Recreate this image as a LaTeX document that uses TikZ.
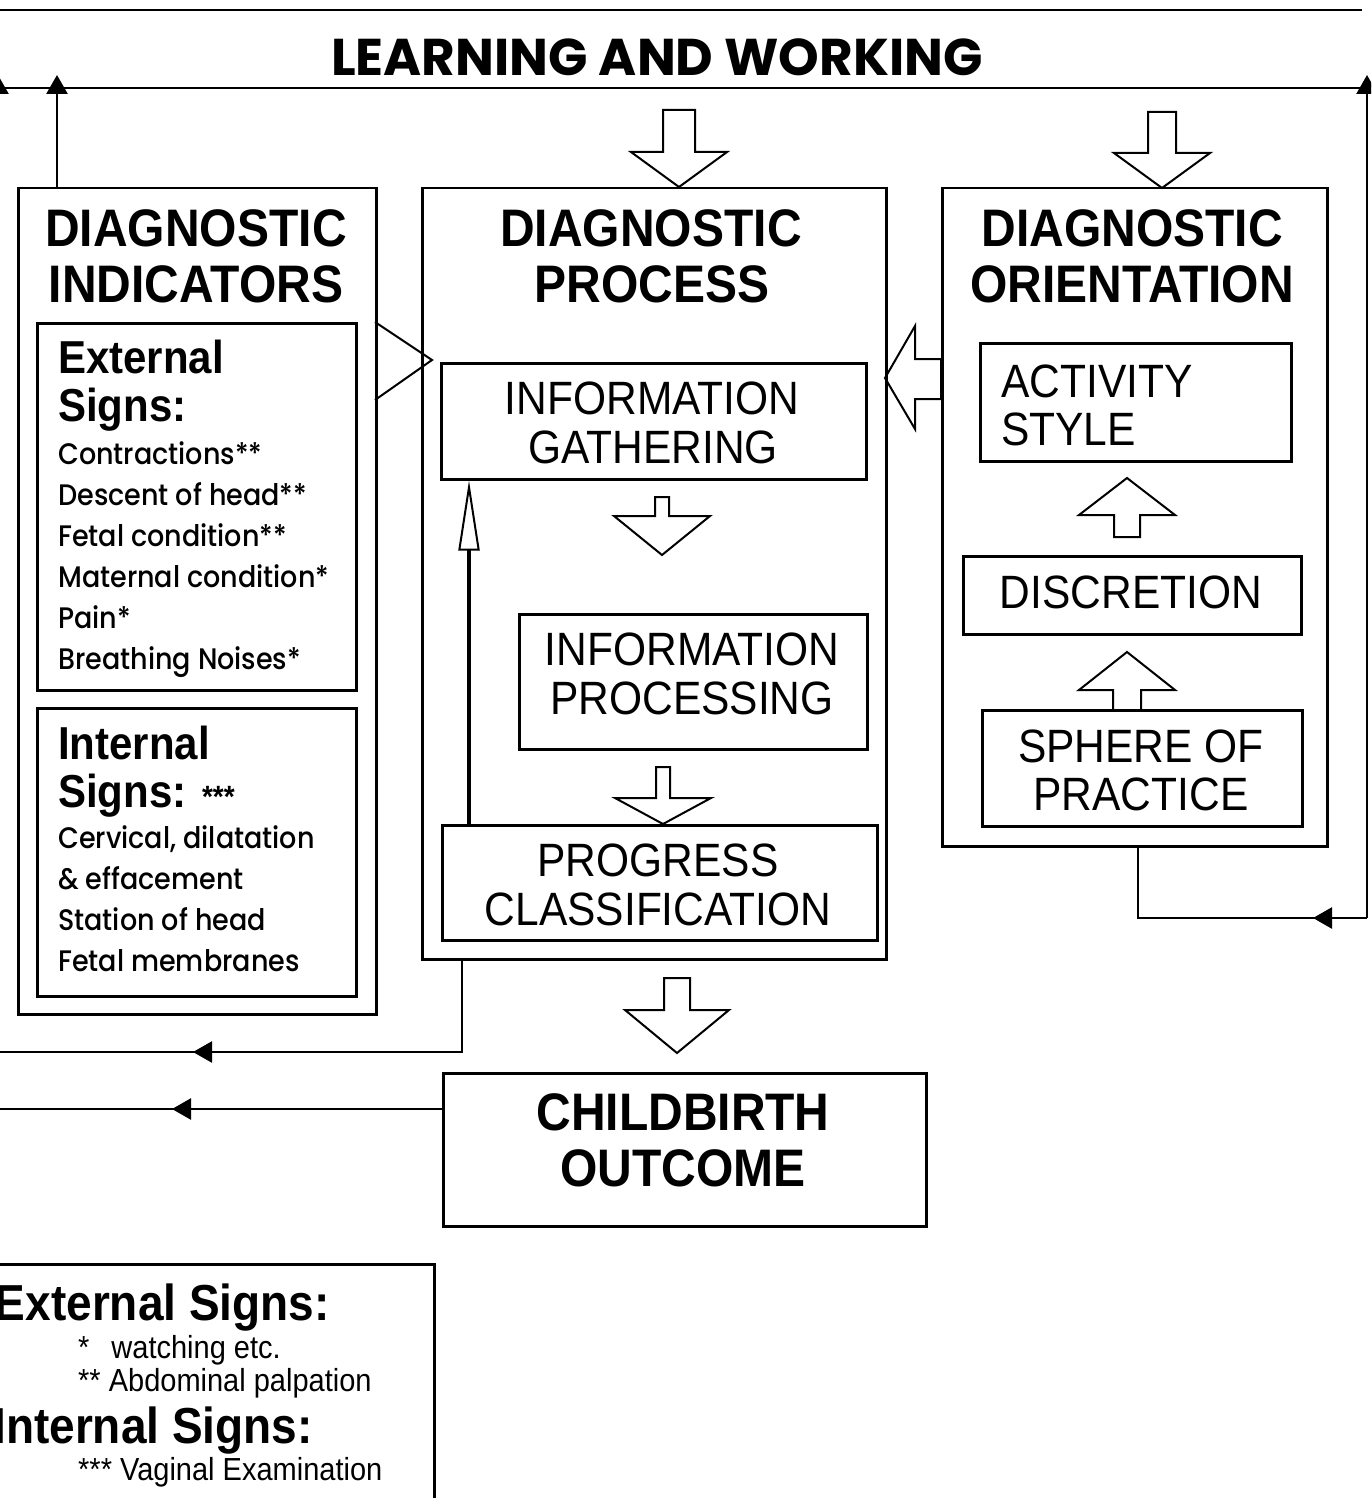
\documentclass[tikz,border=0pt]{standalone}
\usepackage{fontspec}
\usepackage{graphicx}
\setmainfont{Liberation Sans}
\newfontfamily\comic{Poppins}[UprightFont=* Medium, BoldFont=* Bold]
\usetikzlibrary{arrows.meta,calc}
% vertical stretch used for all lettering
\newcommand{\vs}[1]{\scalebox{1}[1.1]{#1}}
\newcommand{\fsz}[1]{\fontsize{#1}{#1}\selectfont}
% hollow block arrow pointing up or down: centre x, tail y, shaft half width, head base y, head half width, tip y
\newcommand{\blockv}[6]{%
  \draw[hollow] (#1-#3,#2) -- (#1+#3,#2) -- (#1+#3,#4) -- (#1+#5,#4) -- (#1,#6)
    -- (#1-#5,#4) -- (#1-#3,#4) -- cycle;}

\begin{document}
\begin{tikzpicture}[x=1pt,y=-1pt,
  box/.style={draw, line width=2.5pt, inner sep=0pt, anchor=north west},
  lab/.style={inner sep=0pt, anchor=base},
  labw/.style={inner sep=0pt, anchor=base west},
  labe/.style={inner sep=0pt, anchor=base east},
  conn/.style={line width=2.5pt},
  tipc/.style={-{Triangle[length=19pt,width=21pt]}},
  hollow/.style={draw, line width=2pt, fill=white, line join=miter}]

\path[use as bounding box] (0,0) rectangle (1371,1498);
\clip (0,0) rectangle (1371,1498);

% rule under the page head
\draw[line width=2.5pt] (0,10) -- (1362,10);

% title
\node[lab] (title) at (657,76) {\scalebox{1.1}[1.1]{\comic\bfseries\fsz{47}LEARNING AND WORKING}};

% hollow block arrows
\blockv{679}{110}{16}{152}{48}{187}
\blockv{1162}{112}{14}{153}{48}{188}
\blockv{662}{497}{7}{516}{48}{555}
\blockv{663}{767}{7}{798}{48}{824}
\blockv{677}{978}{13}{1010}{52}{1053}
\blockv{1127}{537}{13}{515}{48}{478}
\blockv{1127}{710}{14}{690}{48}{652}
\draw[hollow] (941,359) -- (915,359) -- (915,326) -- (885,378) -- (915,429)
  -- (915,399) -- (941,399) -- cycle;
\draw[line width=2pt, line join=miter] (375,322) -- (432,360) -- (375,400);

% boxes
\node[box, minimum width=358pt, minimum height=826pt] (ind) at (17,187) {};
\node[box, minimum width=319pt, minimum height=367pt] (ext) at (36,322) {};
\node[box, minimum width=319pt, minimum height=288pt] (int) at (36,707) {};
\node[box, minimum width=464pt, minimum height=771pt] (proc) at (421,187) {};
\node[box, minimum width=425pt, minimum height=116pt] (gath) at (440,362) {};
\node[box, minimum width=348pt, minimum height=135pt] (info) at (518,613) {};
\node[box, minimum width=435pt, minimum height=115pt] (prog) at (441,824) {};
\node[box, minimum width=385pt, minimum height=658pt] (orient) at (941,187) {};
\node[box, minimum width=311pt, minimum height=118pt] (act) at (979,342) {};
\node[box, minimum width=338pt, minimum height=78pt] (disc) at (962,555) {};
\node[box, minimum width=320pt, minimum height=116pt] (sph) at (981,709) {};
\node[box, minimum width=483pt, minimum height=153pt] (out) at (442,1072) {};
\node[box, minimum width=443pt, minimum height=260pt] (leg) at (-10,1263) {};

% column headings
\node[lab] (h1a) at (196,246) {\vs{\bfseries\fsz{48}DIAGNOSTIC}};
\node[lab] (h1b) at (196,302) {\vs{\bfseries\fsz{48}INDICATORS}};
\node[lab] (h2a) at (651,246) {\vs{\bfseries\fsz{48}DIAGNOSTIC}};
\node[lab] (h2b) at (652,302) {\vs{\bfseries\fsz{48}PROCESS}};
\node[lab] (h3a) at (1132,246) {\vs{\bfseries\fsz{48}DIAGNOSTIC}};
\node[lab] (h3b) at (1132,302) {\vs{\bfseries\fsz{48}ORIENTATION}};

% external signs
\node[labw] (e1) at (58,373) {\vs{\bfseries\fsz{42}External}};
\node[labw] (e2) at (58,421) {\vs{\bfseries\fsz{42}Signs:}};
\node[labw] (e3) at (58,464) {\vs{\comic\fsz{27}Contractions**}};
\node[labw] (e4) at (58,505) {\vs{\comic\fsz{27}Descent of head**}};
\node[labw] (e5) at (58,546) {\vs{\comic\fsz{27}Fetal condition**}};
\node[labw] (e6) at (58,587) {\vs{\comic\fsz{27}Maternal condition*}};
\node[labw] (e7) at (58,628) {\vs{\comic\fsz{27}Pain*}};
\node[labw] (e8) at (58,669) {\vs{\comic\fsz{27}Breathing Noises*}};

% internal signs
\node[labw] (i1) at (58,759) {\vs{\bfseries\fsz{42}Internal}};
\node[labw] (i2) at (58,807) {\vs{\bfseries\fsz{42}Signs: {\fsz{28}***}}};
\node[labw] (i3) at (58,848) {\vs{\comic\fsz{27}Cervical, dilatation}};
\node[labw] (i4) at (58,889) {\vs{\comic\fsz{27}\& effacement}};
\node[labw] (i5) at (58,930) {\vs{\comic\fsz{27}Station of head}};
\node[labw] (i6) at (58,971) {\vs{\comic\fsz{27}Fetal membranes}};

% process steps
\node[lab] (g1) at (652,414) {\vs{\fsz{42.5}INFORMATION}};
\node[lab] (g2) at (653,463) {\vs{\fsz{42.5}GATHERING}};
\node[lab] (p1) at (692,665) {\vs{\fsz{42.5}INFORMATION}};
\node[lab] (p2) at (692,714) {\vs{\fsz{42.5}PROCESSING}};
\node[lab] (c1) at (658,876) {\vs{\fsz{42.5}PROGRESS}};
\node[lab] (c2) at (658,925) {\vs{\fsz{42.5}CLASSIFICATION}};

% orientation steps
\node[labw] (a1) at (1001,397) {\vs{\fsz{42.5}ACTIVITY}};
\node[labw] (a2) at (1001,445) {\vs{\fsz{42.5}STYLE}};
\node[lab] (d1) at (1131,608) {\vs{\fsz{42.5}DISCRETION}};
\node[lab] (s1) at (1141,762) {\vs{\fsz{42.5}SPHERE OF}};
\node[lab] (s2) at (1141,810) {\vs{\fsz{42.5}PRACTICE}};

% outcome
\node[lab] (o1) at (683,1130) {\vs{\bfseries\fsz{48}CHILDBIRTH}};
\node[lab] (o2) at (683,1186) {\vs{\bfseries\fsz{48}OUTCOME}};

% key
\node[labe] (k1) at (330,1320) {\vs{\bfseries\fsz{46}External Signs:}};
\node[labw] (k2) at (78,1358) {\vs{\fsz{29}*\hspace{22pt}watching etc.}};
\node[labw] (k3) at (78,1391) {\vs{\fsz{29}** Abdominal palpation}};
\node[labe] (k4) at (313,1443) {\vs{\bfseries\fsz{46}Internal Signs:}};
\node[labw] (k5) at (78,1480) {\vs{\fsz{29}*** Vaginal Examination}};

% feedback lines
\coordinate (lw) at (-2,88);
\coordinate (rw) at (1367,88);
\coordinate (ltip) at (-2,75);
\coordinate (rtip) at (1367,75);
\draw[conn] (lw) -- (rw);
\coordinate (indx) at (57,0);
\draw[conn, tipc] (ind.north -| indx) -- (indx |- ltip);

\coordinate (pb) at (462,1052);
\coordinate (pbl) at (-2,1052);
\coordinate (pbt) at (193,1052);
\draw[conn] (proc.south -| pb) -- (pb) -- (pbl);
\draw[conn, tipc] (pb) -- (pbt);

\coordinate (ob) at (-2,1109);
\coordinate (obt) at (172,1109);
\draw[conn] (out.west |- ob) -- (ob) -- (ltip);
\draw[conn, tipc] (ob) -- (ltip);
\draw[conn, tipc] (out.west |- ob) -- (obt);

\coordinate (sb) at (1138,918);
\coordinate (sr) at (1367,918);
\coordinate (sbt) at (1313,918);
\draw[conn] (orient.south -| sb) -- (sb) -- (sr);
\draw[conn, tipc] (sr) -- (sbt);
\draw[conn, tipc] (sr) -- (rtip);

% loop from classification back to gathering
\coordinate (lx) at (469,0);
\draw[line width=3.5pt, -{Triangle[open, length=70pt, width=21pt, line width=2pt]}]
  (prog.north -| lx) -- (gath.south -| lx);

\end{tikzpicture}
\end{document}
